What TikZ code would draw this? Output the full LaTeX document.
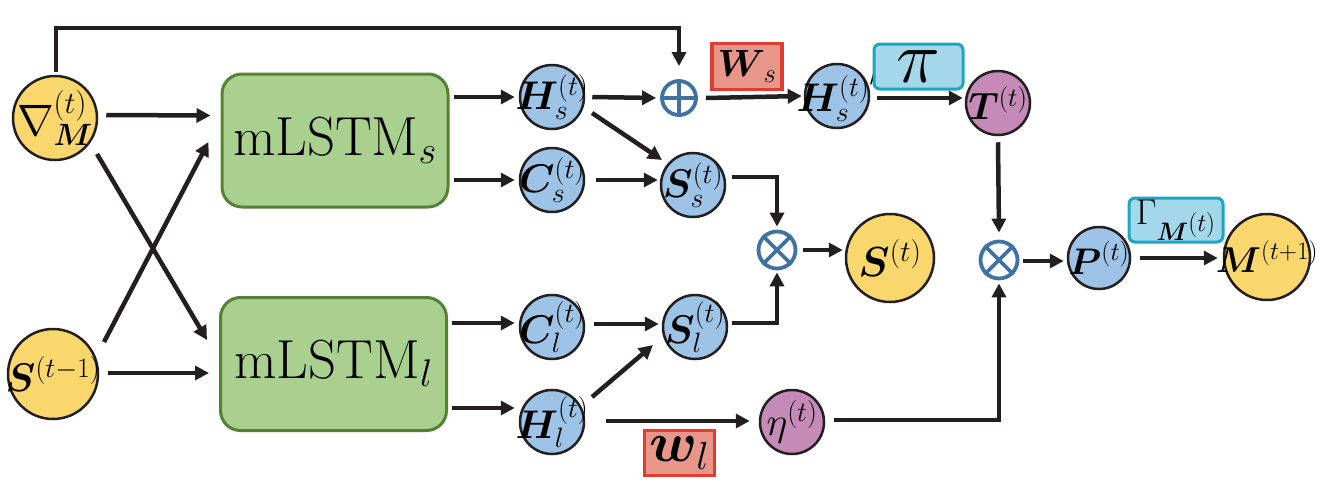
\RequirePackage{fix-cm}
\documentclass[tikz,border=0pt]{standalone}
\usepackage{amsmath,bm}
\usetikzlibrary{arrows.meta,calc}
\definecolor{cyel}{HTML}{FAD76C}
\definecolor{cblu}{HTML}{9DC3E6}
\definecolor{cpur}{HTML}{C58AB8}
\definecolor{cgreen}{HTML}{A9D08E}
\definecolor{cgreenb}{HTML}{548235}
\definecolor{cred}{HTML}{E03C31}
\definecolor{cpink}{HTML}{E8958A}
\definecolor{ccyan}{HTML}{1BA6C0}
\definecolor{clblue}{HTML}{A3D7EA}
\definecolor{cop}{HTML}{3F72A3}
\definecolor{cline}{HTML}{231F20}
\begin{document}
\begin{tikzpicture}[x=1pt,y=-1pt,
  arr/.style={line width=4.5pt, draw=cline, -{Triangle[length=14pt,width=14pt]}},
  circ/.style={circle, draw=cline, line width=2.5pt, inner sep=0pt},
  lab/.style={inner sep=0pt, font=\fontsize{#1}{#1}\selectfont},
  yel/.style={circ, fill=cyel},
  blu/.style={circ, fill=cblu, minimum size=64pt},
  pur/.style={circ, fill=cpur, minimum size=64pt},
  lstm/.style={rounded corners=20pt, draw=cgreenb, fill=cgreen, line width=3pt,
    minimum width=226pt, minimum height=133pt, inner sep=0pt, font=\fontsize{55}{57}\selectfont},
  op/.style={circle, draw=cop, fill=white, line width=3.8pt, inner sep=0pt},
  wbox/.style={draw=cred, fill=cpink, line width=3.5pt, inner sep=0pt},
  cbox/.style={draw=ccyan, fill=clblue, line width=3pt, rounded corners=6pt, inner sep=0pt},
]
\useasboundingbox (0,0) rectangle (1330,482);
% inputs
\node[yel, minimum size=84pt, label={[lab=44]center:$\nabla_{\bm{M}}^{(t)}$}] (nabla) at (55,118) {};
\node[yel, minimum size=90pt, label={[lab=40]center:$\bm{S}^{(t-1)}$}] (sprev) at (53,374) {};
% mLSTM blocks
\node[lstm] (lstms) at (335,140.5) {$\mathrm{mLSTM}_s$};
\node[lstm] (lstml) at (333.5,364) {$\mathrm{mLSTM}_l$};
% blue states
\node[blu, label={[lab=40]center:$\bm{H}_s^{(t)}$}] (Hs) at (552,97) {};
\node[blu, label={[lab=40]center:$\bm{C}_s^{(t)}$}] (Cs) at (552,180) {};
\node[blu, label={[lab=40]center:$\bm{C}_l^{(t)}$}] (Cl) at (552,327) {};
\node[blu, label={[lab=40]center:$\bm{H}_l^{(t)}$}] (Hl) at (552,422) {};
\node[blu, label={[lab=40]center:$\bm{S}_s^{(t)}$}] (Ss) at (693,185) {};
\node[blu, label={[lab=40]center:$\bm{S}_l^{(t)}$}] (Sl) at (695,327) {};
\node[blu, label={[lab=40]center:${\bm{H}_s^{(t)}}'$}] (Hsp) at (837,96) {};
\node[blu, minimum size=62pt, label={[lab=37]center:$\bm{P}^{(t)}$}] (P) at (1099,258) {};
\node[pur, label={[lab=38]center:$\bm{T}^{(t)}$}] (T) at (998,103) {};
\node[pur, label={[lab=40]center:$\eta^{(t)}$}] (eta) at (792,422) {};
\node[yel, minimum size=88pt, label={[lab=42]center:$\bm{S}^{(t)}$}] (St) at (890,258) {};
\node[yel, minimum size=86pt, label={[lab=36]center:$\bm{M}^{(t+1)}$}] (M) at (1267,257) {};
% operators
\node[op, minimum size=34pt] (oplus) at (679,98) {};
\draw[cop, line width=3.8pt] (oplus.north) -- (oplus.south) (oplus.west) -- (oplus.east);
\node[op, minimum size=37pt] (ot1) at (777,250) {};
\draw[cop, line width=3.8pt] (ot1.45) -- (ot1.225) (ot1.135) -- (ot1.315);
\node[op, minimum size=37pt] (ot2) at (999,260) {};
\draw[cop, line width=3.8pt] (ot2.45) -- (ot2.225) (ot2.135) -- (ot2.315);
% weight boxes
\node[wbox, minimum width=70pt, minimum height=46pt, font=\fontsize{38}{38}\selectfont] (Ws) at (747,66.5) {$\bm{W}_{\,s}$};
\node[wbox, minimum width=70pt, minimum height=45pt, font=\fontsize{56}{56}\selectfont] (wl) at (679.5,453) {$\bm{w}_l$};
\node[cbox, minimum width=89pt, minimum height=45pt, font=\fontsize{74}{74}\selectfont] (pi) at (918.5,66.5) {$\pi$};
\node[cbox, minimum width=94pt, minimum height=44pt, font=\fontsize{36}{36}\selectfont] (Gam) at (1176,220) {$\Gamma_{\bm{M}^{\scriptstyle(t)}}$};
% connectors
\draw[arr] ($(nabla.east)+(8,-3)$) -- ($(lstms.west)+(-10,-25)$);
\draw[arr] ($(nabla)+(42,36)$) -- ($(lstml.west)+(-12,-24)$);
\draw[arr] ($(sprev)+(51,-32)$) -- ($(lstms.west)+(-12,1.5)$);
\draw[arr] ($(sprev.east)+(9,-1)$) -- ($(lstml.west)+(-10,9)$);
\draw[arr] ($(nabla.north)+(1,-3)$) -- ++(0,-44) -| ($(oplus.north)+(0,-13)$);
\draw[arr] ($(lstms.east|-Hs.west)+(4,0)$) -- ($(Hs.west)+(-4,0)$);
\draw[arr] ($(lstms.east|-Cs.west)+(4,0)$) -- ($(Cs.west)+(-4,0)$);
\draw[arr] ($(lstml.east|-Cl.west)+(4,-4)$) -- ($(Cl.west)+(-4,-4)$);
\draw[arr] ($(lstml.east|-Hl.west)+(4,-14)$) -- ($(Hl.west)+(-4,-14)$);
\draw[arr] ($(Hs.east)+(7,0)$) -- ($(oplus.west)+(-4,0)$);
\draw[arr] ($(oplus.east)+(8,0)$) -- ($(Hsp.west)+(-2,0)$);
\draw[arr] ($(Hs)+(40,16)$) -- ($(Ss)+(-31,-25)$);
\draw[arr] ($(Cs.east)+(11,0)$) -- ($(Ss.west|-Cs.east)+(-2,0)$);
\draw[arr] ($(Cl.east)+(9,-3)$) -- ($(Sl.west)+(-3,-3)$);
\draw[arr] ($(Hl)+(40,-25)$) -- ($(Sl)+(-42,18)$);
\draw[arr] ($(Ss.east)+(6,-8)$) -| ($(ot1.north)+(0,-3)$);
\draw[arr] ($(Sl.east)+(4,-4)$) -| ($(ot1.south)+(0,2)$);
\draw[arr] ($(ot1.east)+(6,0)$) -- ($(St.west)+(-2,-8)$);
\draw[arr] ($(Hl.east)+(21,-1)$) -- ($(eta.west)+(-9,-1)$);
\draw[arr] ($(eta.east)+(9,-2)$) -| ($(ot2.south)+(0,3)$);
\draw[arr] ($(Hsp.east)+(7,2)$) -- ($(T.west)+(-2,-5)$);
\draw[arr] ($(T.south)+(0,6)$) -- ($(ot2.north)+(0,-7)$);
\draw[arr] ($(ot2.east)+(4,1)$) -- ($(P.west)+(-3,3)$);
\draw[arr] ($(P.east)+(9,0)$) -- ($(M.west)+(-5,1)$);
\end{tikzpicture}
\end{document}
